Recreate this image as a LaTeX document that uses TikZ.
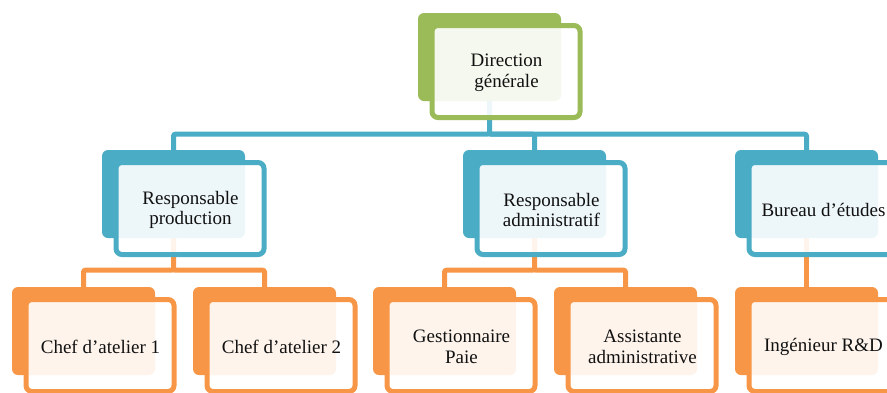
\documentclass[tikz,border=0pt]{standalone}
\usepackage{fontspec}
\setmainfont{Liberation Serif}
\usetikzlibrary{backgrounds}
\definecolor{ogreen}{HTML}{9BBB59}
\definecolor{oblue}{HTML}{4BACC6}
\definecolor{oorange}{HTML}{F79646}
\definecolor{otext}{HTML}{111111}
\tikzset{
  backbox/.style={fill=#1, draw=none, rounded corners=6pt, minimum width=143pt, minimum height=88pt, inner sep=0pt},
  frontbox/.style={draw=#1, line width=5pt, fill=white, fill opacity=0.9, text opacity=1, rounded corners=6pt,
    minimum width=148pt, minimum height=92pt, inner sep=0pt, align=center,
    font=\fontsize{19}{20.5}\selectfont, text=otext},
  conn/.style={draw=#1, line width=5pt, rounded corners=2pt},
}
\newcommand\orgbox[5]{%
  \node[backbox=#2] (#1-back) at (#3+71.5, #4+44) {};
  \node[frontbox=#2] (#1) at (#3+88, #4+58.5) {};
  \node[font=\fontsize{19}{20.5}\selectfont, text=otext, align=center, inner sep=0pt] (#1-text) at (#3+88.5, #4+60) {#5};
}
\begin{document}
\begin{tikzpicture}[x=1pt, y=-1pt]
\path[use as bounding box] (0,0) rectangle (887,392);
\clip (0,0) rectangle (887,392);
\orgbox{dir}{ogreen}{418}{13}{Direction\\générale}
\orgbox{prod}{oblue}{102}{150}{Responsable\\production}
\orgbox{adm}{oblue}{463}{150}{Responsable\\administratif}
\orgbox{bur}{oblue}{735}{150}{Bureau d’études}
\orgbox{c1}{oorange}{12}{287}{Chef d’atelier 1}
\orgbox{c2}{oorange}{193}{287}{Chef d’atelier 2}
\orgbox{gp}{oorange}{373}{287}{Gestionnaire\\Paie}
\orgbox{aa}{oorange}{554}{287}{Assistante\\administrative}
\orgbox{rd}{oorange}{735}{287}{Ingénieur R\&D}
\begin{scope}[on background layer]
  \path (dir-back.south) ++(0,33) coordinate (jb);
  \draw[conn=oblue] (dir-back.south) -- (jb) -| (prod-back.north);
  \draw[conn=oblue] (jb) -| (adm-back.north);
  \draw[conn=oblue] (jb) -| (bur-back.north);
  \path (prod-back.south) ++(0,32) coordinate (jp);
  \draw[conn=oorange] (prod-back.south) -- (jp) -| (c1-back.north);
  \draw[conn=oorange] (jp) -| (c2-back.north);
  \path (adm-back.south) ++(0,32) coordinate (ja);
  \draw[conn=oorange] (adm-back.south) -- (ja) -| (gp-back.north);
  \draw[conn=oorange] (ja) -| (aa-back.north);
  \draw[conn=oorange] (bur-back.south) -- (rd-back.north);
\end{scope}
\end{tikzpicture}
\end{document}
